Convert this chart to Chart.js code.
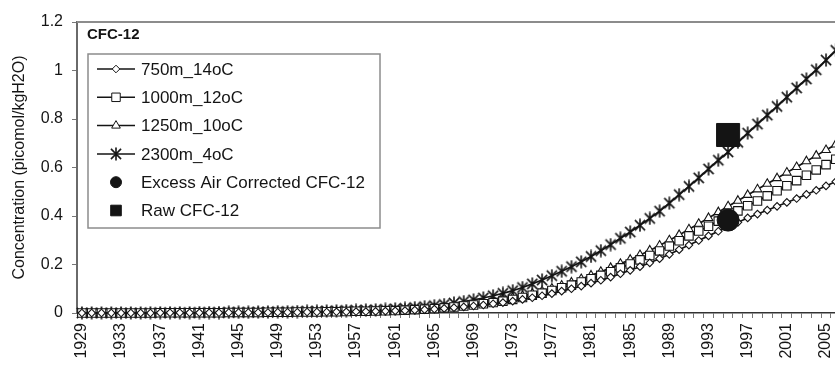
<!DOCTYPE html>
<html>
<head>
<meta charset="utf-8">
<script src="https://cdn.jsdelivr.net/npm/chart.js@4.4.1/dist/chart.umd.min.js"></script>
<style>
  html, body { margin: 0; padding: 0; background: #fff; overflow: hidden; }
  #wrap { width: 835px; height: 367px; overflow: hidden; }
  canvas { display: block; }
</style>
</head>
<body>
<div id="wrap"><canvas id="chart" width="858" height="367"></canvas></div>
<script>
// years on the x axis (one category per year, label every 4th)
const years = [
  1929, 1930, 1931, 1932, 1933, 1934, 1935, 1936, 1937, 1938,
  1939, 1940, 1941, 1942, 1943, 1944, 1945, 1946, 1947, 1948,
  1949, 1950, 1951, 1952, 1953, 1954, 1955, 1956, 1957, 1958,
  1959, 1960, 1961, 1962, 1963, 1964, 1965, 1966, 1967, 1968,
  1969, 1970, 1971, 1972, 1973, 1974, 1975, 1976, 1977, 1978,
  1979, 1980, 1981, 1982, 1983, 1984, 1985, 1986, 1987, 1988,
  1989, 1990, 1991, 1992, 1993, 1994, 1995, 1996, 1997, 1998,
  1999, 2000, 2001, 2002, 2003, 2004, 2005, 2006
];
const labelStep = 4;
const yTickLabels = ['0', '0.2', '0.4', '0.6', '0.8', '1', '1.2'];

// CFC-12 (picomol/kgH2O)
const cfc750m = [
  0, 0, 0, 0, 0, 0, 0, 0, 0.001, 0.001,
  0.001, 0.001, 0.001, 0.001, 0.001, 0.002, 0.002, 0.002, 0.002, 0.002,
  0.003, 0.003, 0.003, 0.004, 0.004, 0.004, 0.005, 0.005, 0.006, 0.006,
  0.007, 0.008, 0.009, 0.010, 0.012, 0.014, 0.016, 0.019, 0.022, 0.025,
  0.029, 0.033, 0.038, 0.043, 0.049, 0.056, 0.063, 0.071, 0.080, 0.090,
  0.100, 0.111, 0.123, 0.135, 0.148, 0.162, 0.176, 0.191, 0.207, 0.224,
  0.242, 0.261, 0.280, 0.299, 0.318, 0.337, 0.356, 0.374, 0.392, 0.408,
  0.424, 0.440, 0.456, 0.472, 0.489, 0.506, 0.524, 0.542
];
const cfc1000m = [
  0, 0, 0, 0, 0, 0, 0, 0, 0.001, 0.001,
  0.001, 0.001, 0.001, 0.001, 0.001, 0.002, 0.002, 0.002, 0.002, 0.003,
  0.003, 0.003, 0.004, 0.004, 0.004, 0.005, 0.005, 0.006, 0.007, 0.007,
  0.008, 0.009, 0.010, 0.012, 0.014, 0.016, 0.018, 0.021, 0.025, 0.029,
  0.033, 0.038, 0.043, 0.049, 0.056, 0.064, 0.073, 0.082, 0.093, 0.104,
  0.115, 0.128, 0.141, 0.155, 0.170, 0.186, 0.202, 0.219, 0.237, 0.256,
  0.276, 0.298, 0.318, 0.338, 0.358, 0.379, 0.400, 0.421, 0.442, 0.462,
  0.483, 0.504, 0.525, 0.546, 0.568, 0.590, 0.612, 0.634
];
const cfc1250m = [
  0, 0, 0, 0, 0, 0, 0, 0, 0.001, 0.001,
  0.001, 0.001, 0.001, 0.001, 0.002, 0.002, 0.002, 0.002, 0.003, 0.003,
  0.003, 0.003, 0.004, 0.004, 0.005, 0.005, 0.006, 0.007, 0.007, 0.008,
  0.009, 0.010, 0.011, 0.013, 0.015, 0.017, 0.020, 0.023, 0.027, 0.031,
  0.036, 0.041, 0.047, 0.054, 0.062, 0.070, 0.080, 0.090, 0.101, 0.113,
  0.126, 0.140, 0.155, 0.170, 0.186, 0.203, 0.220, 0.239, 0.258, 0.278,
  0.300, 0.322, 0.345, 0.368, 0.392, 0.416, 0.440, 0.463, 0.487, 0.510,
  0.533, 0.556, 0.579, 0.602, 0.626, 0.649, 0.672, 0.695
];
const cfc2300m = [
  0, 0, 0, 0, 0, 0, 0, 0.001, 0.001, 0.001,
  0.001, 0.001, 0.002, 0.002, 0.002, 0.003, 0.003, 0.003, 0.004, 0.004,
  0.005, 0.005, 0.006, 0.007, 0.007, 0.008, 0.009, 0.010, 0.011, 0.012,
  0.013, 0.015, 0.017, 0.019, 0.022, 0.026, 0.030, 0.035, 0.041, 0.047,
  0.054, 0.062, 0.071, 0.081, 0.092, 0.105, 0.120, 0.136, 0.154, 0.172,
  0.191, 0.211, 0.233, 0.257, 0.282, 0.308, 0.334, 0.362, 0.390, 0.420,
  0.453, 0.488, 0.522, 0.557, 0.594, 0.630, 0.664, 0.704, 0.742, 0.779,
  0.816, 0.852, 0.890, 0.928, 0.965, 1.003, 1.043, 1.083
];

// measured samples
const sampleYears = [1995];
const excessAirCorrected = [0.383];
const rawCFC12 = [0.734];

const INK = '#141414';
const FONT = '"Liberation Sans", Arial, Helvetica, sans-serif';

// Excel-like asterisk marker: vertical bar + X
function makeAsterisk(size) {
  const c = document.createElement('canvas');
  c.width = size; c.height = size;
  const g = c.getContext('2d');
  const m = size / 2, r = size / 2 - 0.5, d = r * 0.78;
  g.strokeStyle = INK; g.lineWidth = 1.6;
  g.beginPath();
  g.moveTo(m, m - r); g.lineTo(m, m + r);
  g.moveTo(m - d, m - d); g.lineTo(m + d, m + d);
  g.moveTo(m + d, m - d); g.lineTo(m - d, m + d);
  g.stroke();
  return c;
}
const asterisk = makeAsterisk(14);

function seriesSet(label, data, style, radius) {
  return {
    type: 'line', label, data,
    borderColor: INK, borderWidth: 1.7, tension: 0,
    pointStyle: style, pointRadius: radius,
    pointBackgroundColor: '#fff', pointBorderColor: INK, pointBorderWidth: 1.1,
    clip: false, order: 2
  };
}
function sampleSet(label, values, style, radius) {
  return {
    type: 'line', label, showLine: false,
    data: sampleYears.map((yr, i) => ({ x: String(yr), y: values[i] })),
    pointStyle: style, pointRadius: radius,
    pointBackgroundColor: INK, pointBorderColor: INK, pointBorderWidth: 1,
    clip: false, order: 1
  };
}

const legendItems = [
  { text: '750m_14oC', style: 'rectRot', r: 3.8, line: true },
  { text: '1000m_12oC', style: 'rect', r: 6, line: true },
  { text: '1250m_10oC', style: 'triangle', r: 5, line: true },
  { text: '2300m_4oC', style: asterisk, r: 6, line: true },
  { text: 'Excess Air Corrected CFC-12', style: 'circle', r: 5.5, line: false },
  { text: 'Raw CFC-12', style: 'rect', r: 7.5, line: false }
];

const excelBox = {
  id: 'excelBox',
  afterDraw(chart) {
    const ctx = chart.ctx, a = chart.chartArea;
    ctx.save();
    // top edge of the plot area
    ctx.strokeStyle = '#8c8c8c'; ctx.lineWidth = 2;
    ctx.beginPath(); ctx.moveTo(a.left, a.top); ctx.lineTo(a.right, a.top); ctx.stroke();

    // chart title inside the plot
    ctx.fillStyle = INK;
    ctx.font = 'bold 15px ' + FONT;
    ctx.textBaseline = 'middle'; ctx.textAlign = 'left';
    ctx.fillText('CFC-12', a.left + 10, a.top + 13);

    // legend box
    const bx = a.left + 11, by = a.top + 32, bw = 292, bh = 174;
    ctx.fillStyle = '#fff'; ctx.fillRect(bx, by, bw, bh);
    ctx.strokeStyle = '#8c8c8c'; ctx.lineWidth = 1.5; ctx.strokeRect(bx, by, bw, bh);

    ctx.font = '17px ' + FONT;
    legendItems.forEach((it, i) => {
      const y = by + 15 + i * 28.3;
      if (it.line) {
        ctx.strokeStyle = INK; ctx.lineWidth = 1.5;
        ctx.beginPath(); ctx.moveTo(bx + 9, y); ctx.lineTo(bx + 47, y); ctx.stroke();
      }
      ctx.fillStyle = it.line ? '#fff' : INK;
      ctx.strokeStyle = INK; ctx.lineWidth = 1;
      Chart.helpers.drawPoint(ctx, { pointStyle: it.style, radius: it.r, rotation: 0, borderWidth: 1 }, bx + 28, y);
      ctx.fillStyle = INK;
      ctx.fillText(it.text, bx + 53, y + 1);
    });
    ctx.restore();
  }
};

Chart.defaults.font.family = FONT;
Chart.defaults.color = INK;

new Chart(document.getElementById('chart'), {
  type: 'line',
  data: {
    labels: years.map(String),
    datasets: [
      seriesSet('750m_14oC', cfc750m, 'rectRot', 3.8),
      seriesSet('1000m_12oC', cfc1000m, 'rect', 6),
      seriesSet('1250m_10oC', cfc1250m, 'triangle', 5),
      seriesSet('2300m_4oC', cfc2300m, asterisk, 6),
      sampleSet('Excess Air Corrected CFC-12', excessAirCorrected, 'circle', 11),
      sampleSet('Raw CFC-12', rawCFC12, 'rect', 16.3)
    ]
  },
  options: {
    responsive: false,
    animation: false,
    layout: { padding: { top: 22, right: 0, left: 0, bottom: 0 } },
    plugins: { legend: { display: false }, tooltip: { enabled: false } },
    scales: {
      x: {
        offset: true,
        afterFit: s => { s.height = 54; s.paddingRight = 0; s.paddingLeft = 0; },
        grid: { offset: true, drawOnChartArea: false, tickLength: 5, color: '#777' },
        border: { color: '#333', width: 1.5 },
        ticks: {
          autoSkip: false, minRotation: 90, maxRotation: 90, padding: 5,
          font: { size: 16 }, color: INK,
          callback: (v, i) => (years[i] - years[0]) % labelStep === 0 ? String(years[i]) : ''
        }
      },
      y: {
        min: 0, max: 1.2,
        afterFit: s => { s.width = 77; },
        grid: { drawOnChartArea: false, tickLength: 5, color: '#777' },
        border: { color: '#6a6a6a', width: 2 },
        ticks: {
          stepSize: 0.2, padding: 9, font: { size: 16 }, color: INK,
          callback: (v, i) => yTickLabels[i]
        },
        title: {
          display: true, text: 'Concentration (picomol/kgH2O)',
          padding: { top: 10, bottom: 0 }, font: { size: 16 }, color: INK
        }
      }
    }
  },
  plugins: [excelBox]
});
</script>
</body>
</html>
